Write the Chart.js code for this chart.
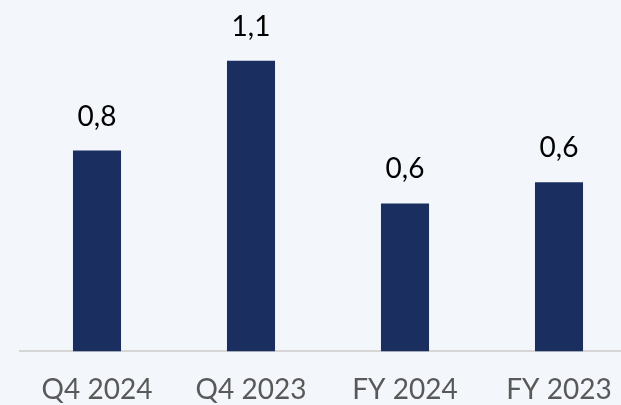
<!DOCTYPE html>
<html>
<head>
<meta charset="utf-8">
<script src="https://cdn.jsdelivr.net/npm/chart.js@4/dist/chart.umd.min.js"></script>
<style>
    html, body { margin: 0; padding: 0; background: #f3f6fb; overflow: hidden; }
    #wrap { width: 640px; height: 429px; }
</style>
</head>
<body>
<div id="wrap"><canvas id="barChart"></canvas></div>
<script>
const categories = ["Q4 2024", "Q4 2023", "FY 2024", "FY 2023"];
const values = [0.76, 1.1, 0.56, 0.64];
const valueLabels = ["0,8", "1,1", "0,6", "0,6"];

const FONT = "Lato, 'Open Sans', sans-serif";

// draws the value above each bar
const valueLabelPlugin = {
    id: "valueLabels",
    afterDatasetsDraw(chart) {
        const ctx = chart.ctx;
        const meta = chart.getDatasetMeta(0);
        ctx.save();
        ctx.font = `28px ${FONT}`;
        ctx.fillStyle = "#000000";
        ctx.textAlign = "center";
        ctx.textBaseline = "alphabetic";
        meta.data.forEach((bar, i) => {
            ctx.fillText(valueLabels[i], bar.x, bar.y - 25);
        });
        ctx.restore();
    }
};

new Chart(document.getElementById("barChart"), {
    type: "bar",
    data: {
        labels: categories,
        datasets: [{
            data: values,
            backgroundColor: "#1b2e60",
            barPercentage: 0.312,
            categoryPercentage: 1
        }]
    },
    options: {
        responsive: true,
        maintainAspectRatio: false,
        animation: false,
        layout: { padding: { left: 20, right: 4, top: 0, bottom: 0 } },
        plugins: { legend: { display: false }, tooltip: { enabled: false } },
        scales: {
            x: {
                grid: { display: false, drawTicks: false },
                border: { display: true, color: "#d6d6d6", width: 2 },
                ticks: { color: "#595959", font: { family: FONT, size: 28 }, padding: 22 }
            },
            y: {
                display: false,
                min: 0,
                max: 1.33
            }
        }
    },
    plugins: [valueLabelPlugin]
});
</script>
</body>
</html>
